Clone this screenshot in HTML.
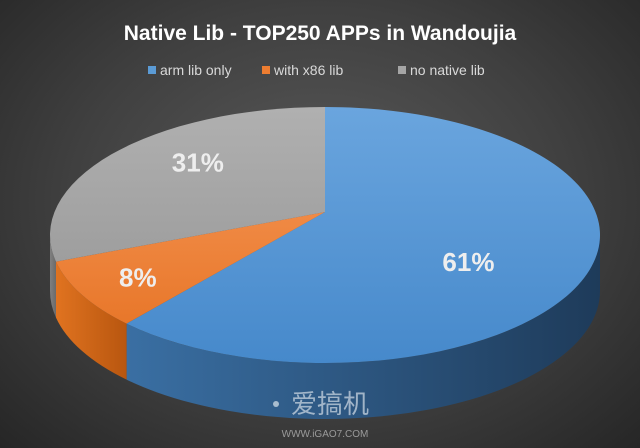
<!DOCTYPE html>
<html><head><meta charset="utf-8">
<style>
html,body{margin:0;padding:0;}
body{width:640px;height:448px;overflow:hidden;background:radial-gradient(ellipse at 50% 45%,#5a5a5a 0%,#404040 55%,#262626 100%);font-family:"Liberation Sans","Noto Sans CJK SC",sans-serif;}
svg{position:absolute;left:0;top:0;}
</style></head>
<body>
<svg id="chart" width="640" height="448">
<defs>
<linearGradient id="g0" x1="0" y1="0" x2="0" y2="1"><stop offset="0" stop-color="#6aa5de"/><stop offset="1" stop-color="#4689cb"/></linearGradient>
<linearGradient id="g1" x1="0" y1="0" x2="0" y2="1"><stop offset="0" stop-color="#f08a45"/><stop offset="1" stop-color="#e8772a"/></linearGradient>
<linearGradient id="g2" x1="0" y1="0" x2="0" y2="1"><stop offset="0" stop-color="#b0b0b0"/><stop offset="1" stop-color="#9e9e9e"/></linearGradient>
<linearGradient id="s0" x1="0" y1="0" x2="1" y2="0"><stop offset="0" stop-color="#3a6fa3"/><stop offset="1" stop-color="#1e3b5a"/></linearGradient>
<linearGradient id="s1" x1="0" y1="0" x2="1" y2="0"><stop offset="0" stop-color="#e07320"/><stop offset="1" stop-color="#b8560f"/></linearGradient>
<linearGradient id="s2" x1="0" y1="0" x2="1" y2="0"><stop offset="0" stop-color="#808080"/><stop offset="1" stop-color="#6a6a6a"/></linearGradient>
</defs>
<text x="320" y="40" text-anchor="middle" fill="#ffffff" font-size="21" font-weight="bold" font-family="Liberation Sans, sans-serif">Native Lib - TOP250 APPs in Wandoujia</text>
<g id="legend"></g>
<g id="sides"></g>
<g id="tops"></g>
<g id="labels"></g>
<circle cx="276" cy="404" r="3" fill="#c8d4e0" opacity="0.8"/>
<text x="330" y="413" text-anchor="middle" fill="#c8d4e0" opacity="0.75" font-size="26" font-family="Noto Sans CJK SC, sans-serif">爱搞机</text>
<text x="325" y="437" text-anchor="middle" fill="#9a9a9a" font-size="10" font-family="Liberation Sans, sans-serif">WWW.iGAO7.COM</text>
</svg>
<script>
const categories = ["arm lib only", "with x86 lib", "no native lib"];
const values = [61, 8, 31];
const labels = ["61%", "8%", "31%"];
const labelNudge = [[-19, 22], [-41, 15], [-6, -12]];
const NS = "http://www.w3.org/2000/svg";
const cx = 325, cy = 235, rx = 275, ry = 128, ax = 325, ay = 212, depth = 56;
const total = values.reduce((a, b) => a + b, 0);
function rim(a) {
  const dx = rx * Math.sin(a), dy = -ry * Math.cos(a);
  const ox = ax - cx, oy = ay - cy;
  const A = (dx / rx) ** 2 + (dy / ry) ** 2;
  const B = 2 * (ox * dx / (rx * rx) + oy * dy / (ry * ry));
  const C = (ox / rx) ** 2 + (oy / ry) ** 2 - 1;
  const k = (-B + Math.sqrt(B * B - 4 * A * C)) / (2 * A);
  const x = ax + k * dx, y = ay + k * dy;
  let t = Math.atan2((x - cx) / rx, -(y - cy) / ry);
  if (t < 0) t += 2 * Math.PI;
  return { x: x, y: y, t: t };
}
function ep(t, d) { return [cx + rx * Math.sin(t), cy - ry * Math.cos(t) + (d || 0)]; }
function mk(tag, attrs, parent) { const e = document.createElementNS(NS, tag); for (const k in attrs) e.setAttribute(k, attrs[k]); parent.appendChild(e); return e; }
const sides = document.getElementById('sides'), tops = document.getElementById('tops'), lab = document.getElementById('labels'), leg = document.getElementById('legend');
let acc = 0;
values.forEach((v, i) => {
  const a1 = acc / total * 2 * Math.PI; acc += v;
  const a2 = acc / total * 2 * Math.PI;
  const r1 = rim(a1), r2 = rim(a2);
  let t1 = r1.t, t2 = r2.t;
  if (a1 === 0) t1 = 0;
  if (a2 >= 2 * Math.PI - 1e-9) t2 = 2 * Math.PI;
  const s1 = Math.max(t1, Math.PI / 2), s2 = Math.min(t2, 3 * Math.PI / 2);
  if (s2 > s1) {
    const p1 = ep(s1), p2 = ep(s2), p3 = ep(s2, depth), p4 = ep(s1, depth);
    const lg = (s2 - s1) > Math.PI ? 1 : 0;
    const side = mk('path', { d: `M${p1[0]},${p1[1]} A${rx},${ry} 0 ${lg} 1 ${p2[0]},${p2[1]} L${p3[0]},${p3[1]} A${rx},${ry} 0 ${lg} 0 ${p4[0]},${p4[1]} Z`, fill: 'url(#s' + i + ')' }, sides);
    
    
  }
  const large = (t2 - t1) > Math.PI ? 1 : 0;
  const top = mk('path', { d: `M${ax},${ay} L${r1.x},${r1.y} A${rx},${ry} 0 ${large} 1 ${r2.x},${r2.y} Z`, fill: 'url(#g' + i + ')' }, tops);
  
  
  const am = (a1 + a2) / 2, rm = rim(am);
  const f = 0.6;
  const t = mk('text', { x: ax + (rm.x - ax) * f + labelNudge[i][0], y: ay + (rm.y - ay) * f + 10 + labelNudge[i][1], 'text-anchor': 'middle', fill: '#eeeeee', 'font-size': 26, 'font-weight': 'bold' }, lab);
  t.textContent = labels[i];
  
  
});
const legX = [148, 262, 398];
const legColors = ["#5b9bd5", "#ed7d31", "#a5a5a5"];
categories.forEach((c, i) => {
  const r = mk('rect', { x: legX[i], y: 66, width: 8, height: 8, fill: legColors[i] }, leg);
  
  
  const t = mk('text', { x: legX[i] + 12, y: 75, fill: '#d9d9d9', 'font-size': 14 }, leg);
  t.textContent = c;
  
  
});
</script>
</body></html>
